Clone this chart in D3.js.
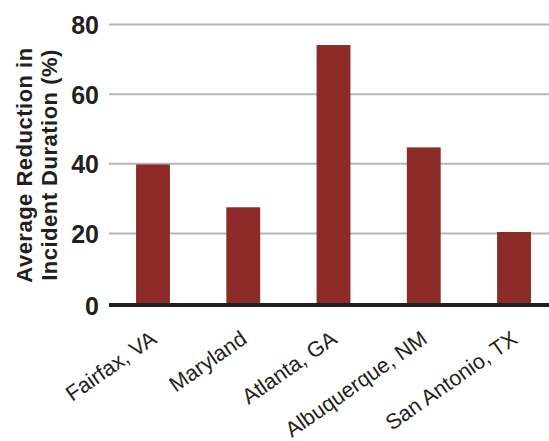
<!DOCTYPE html>
<html><head><meta charset="utf-8">
<script src="https://cdn.jsdelivr.net/npm/d3@7"></script>
<style>body{margin:0;background:#fff}svg{display:block}</style>
</head><body>
<script>
const categories = ["Fairfax, VA", "Maryland", "Atlanta, GA", "Albuquerque, NM", "San Antonio, TX"];
const values = [39.8, 27.5, 74.1, 44.7, 20.4];
const yTicks = [0, 20, 40, 60, 80];
const yTitle = ["Average Reduction in", "Incident Duration (%)"];

const W = 549, H = 441;
const svg = d3.select("body").append("svg").attr("width", W).attr("height", H);
const font = "'Liberation Sans', Arial, Helvetica, sans-serif";
const ink = "#231f20";

const x = d3.scaleBand().domain(categories).range([109, 549])
  .paddingInner(0.625).paddingOuter(0.25).align(0.6);
const y = d3.scaleLinear().domain([0, 80]).range([303, 24.5]);

// gridlines
svg.append("g").selectAll("line").data(yTicks.filter(d => d > 0)).join("line")
  .attr("x1", 109).attr("x2", 549)
  .attr("y1", d => y(d)).attr("y2", d => y(d))
  .attr("stroke", "#b3b6bc").attr("stroke-width", 2);

// bars
svg.append("g").selectAll("rect").data(values).join("rect")
  .attr("x", (d, i) => x(categories[i]))
  .attr("width", x.bandwidth())
  .attr("y", d => y(d))
  .attr("height", d => y(0) - y(d))
  .attr("fill", "#8b2a26");

// baseline axis
svg.append("line").attr("x1", 109).attr("x2", 549)
  .attr("y1", y(0) + 2).attr("y2", y(0) + 2)
  .attr("stroke", ink).attr("stroke-width", 4);

// y axis labels via d3 axis
const yAxis = d3.axisLeft(y).tickValues(yTicks).tickSize(0).tickPadding(0);
const gy = svg.append("g").attr("transform", "translate(99,0)").call(yAxis);
gy.select(".domain").remove();
gy.selectAll("text").attr("font-family", font).attr("font-size", 25)
  .attr("font-weight", "bold").attr("fill", ink).attr("dy", "0.36em");
gy.selectAll("text").filter(d => d === 0).attr("y", 2);

// x labels
const xAxis = d3.axisBottom(x).tickSize(0).tickPadding(0);
const gx = svg.append("g").call(xAxis);
gx.select(".domain").remove();
gx.selectAll(".tick").attr("transform", d => `translate(${x(d) + x.bandwidth() / 2 + 5},342)`);
gx.selectAll("text").attr("font-family", font).attr("font-size", 21.5)
  .attr("fill", ink).attr("text-anchor", "end").attr("y", 0).attr("dy", 0)
  .attr("transform", "rotate(-35)");

// y title
const t = svg.append("text").attr("transform", "translate(0,165) rotate(-90)")
  .attr("font-family", font).attr("font-size", 22).attr("font-weight", "bold")
  .attr("letter-spacing", 0.5)
  .attr("fill", ink).attr("text-anchor", "middle");
t.selectAll("tspan").data(yTitle).join("tspan")
  .attr("x", 0).attr("y", (d, i) => 32 + i * 25).text(d => d);
</script>
</body></html>
